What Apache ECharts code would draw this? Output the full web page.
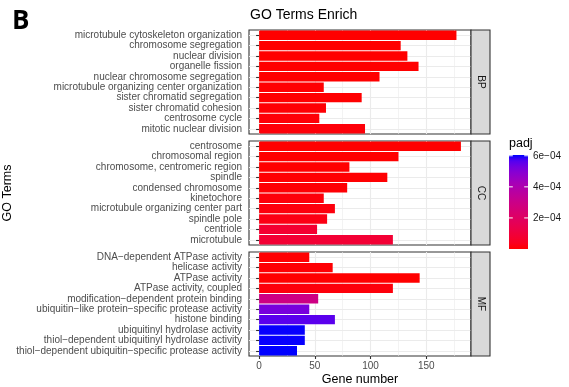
<!DOCTYPE html>
<html>
<head>
<meta charset="utf-8">
<script src="https://cdn.jsdelivr.net/npm/echarts@6/dist/echarts.min.js"></script>
<style>
  html, body { margin: 0; padding: 0; background: #ffffff; }
  #chart { width: 569px; height: 387px; }
</style>
</head>
<body>
<div id="chart"></div>
<script>
// ---- GO enrichment data (top to bottom within each ontology) ----
const bpTerms = [
  'microtubule cytoskeleton organization', 'chromosome segregation', 'nuclear division',
  'organelle fission', 'nuclear chromosome segregation', 'microtubule organizing center organization',
  'sister chromatid segregation', 'sister chromatid cohesion', 'centrosome cycle', 'mitotic nuclear division'
];
const bpCounts = [177, 127, 133, 143, 108, 58, 92, 60, 54, 95];
const bpPadj = [1.2e-9, 3.4e-8, 5.1e-8, 2.6e-8, 4.0e-7, 2.2e-6, 1.5e-6, 4.3e-6, 8.7e-6, 1.1e-5];

const ccTerms = [
  'centrosome', 'chromosomal region', 'chromosome, centromeric region', 'spindle',
  'condensed chromosome', 'kinetochore', 'microtubule organizing center part', 'spindle pole',
  'centriole', 'microtubule'
];
const ccCounts = [181, 125, 81, 115, 79, 58, 68, 61, 52, 120];
const ccPadj = [2.0e-12, 6.1e-9, 3.3e-7, 1.9e-6, 4.8e-6, 1.2e-5, 1.6e-5, 2.4e-5, 7.5e-5, 8.2e-5];

const mfTerms = [
  'DNA\u2212dependent ATPase activity', 'helicase activity', 'ATPase activity',
  'ATPase activity, coupled', 'modification\u2212dependent protein binding',
  'ubiquitin\u2212like protein\u2212specific protease activity', 'histone binding',
  'ubiquitinyl hydrolase activity', 'thiol\u2212dependent ubiquitinyl hydrolase activity',
  'thiol\u2212dependent ubiquitin\u2212specific protease activity'
];
const mfCounts = [45, 66, 144, 120, 53, 45, 68, 41, 41, 34];
const mfPadj = [3.0e-6, 4.5e-6, 5.2e-7, 1.4e-5, 2.9e-4, 5.2e-4, 5.6e-4, 6.02e-4, 6.02e-4, 6.05e-4];

const facetNames = ['BP', 'CC', 'MF'];
const xTicks = [0, 50, 100, 150];
const xMinorTicks = [25, 75, 125, 175];
const legendTicks = [2e-4, 4e-4, 6e-4];
const legendTickLabels = ['2e\u221204', '4e\u221204', '6e\u221204'];

// ---- layout ----
const FONT = 'Liberation Sans, Arial, sans-serif';
const panelLeft = 249, panelRight = 471, stripW = 19;
const panelTops = [30, 141, 252], panelH = 104;

const facets = [
  { terms: bpTerms, counts: bpCounts, padj: bpPadj },
  { terms: ccTerms, counts: ccCounts, padj: ccPadj },
  { terms: mfTerms, counts: mfCounts, padj: mfPadj }
];

// ---- x range: bars from 0, 5% padding on both ends ----
const allCounts = bpCounts.concat(ccCounts, mfCounts);
const countMax = Math.max(...allCounts);
const pad = 0.05 * countMax;
const xMin = -pad, xMax = countMax + pad;

// ---- colour scale: red (low padj) -> blue (high padj), interpolated in CIELAB ----
const allPadj = bpPadj.concat(ccPadj, mfPadj);
const padjMin = Math.min(...allPadj), padjMax = Math.max(...allPadj);

function toLin(c) { c /= 255; return c <= 0.04045 ? c / 12.92 : Math.pow((c + 0.055) / 1.055, 2.4); }
function toGam(c) { c = c <= 0.0031308 ? 12.92 * c : 1.055 * Math.pow(c, 1 / 2.4) - 0.055; return Math.round(Math.min(1, Math.max(0, c)) * 255); }
const WX = 0.95047, WY = 1.0, WZ = 1.08883;
function rgb2lab(rgb) {
  const r = toLin(rgb[0]), g = toLin(rgb[1]), b = toLin(rgb[2]);
  const X = (0.4124 * r + 0.3576 * g + 0.1805 * b) / WX;
  const Y = (0.2126 * r + 0.7152 * g + 0.0722 * b) / WY;
  const Z = (0.0193 * r + 0.1192 * g + 0.9505 * b) / WZ;
  const f = t => t > 0.008856 ? Math.cbrt(t) : 7.787 * t + 16 / 116;
  const fx = f(X), fy = f(Y), fz = f(Z);
  return [116 * fy - 16, 500 * (fx - fy), 200 * (fy - fz)];
}
function lab2rgb(lab) {
  const fy = (lab[0] + 16) / 116, fx = fy + lab[1] / 500, fz = fy - lab[2] / 200;
  const inv = t => t * t * t > 0.008856 ? t * t * t : (t - 16 / 116) / 7.787;
  const X = inv(fx) * WX, Y = inv(fy) * WY, Z = inv(fz) * WZ;
  const r = 3.2406 * X - 1.5372 * Y - 0.4986 * Z;
  const g = -0.9689 * X + 1.8758 * Y + 0.0415 * Z;
  const b = 0.0557 * X - 0.2040 * Y + 1.0570 * Z;
  return 'rgb(' + toGam(r) + ',' + toGam(g) + ',' + toGam(b) + ')';
}
const labLow = rgb2lab([255, 0, 0]), labHigh = rgb2lab([0, 0, 255]);
const rampStops = [];
for (let i = 0; i <= 16; i++) {
  const t = i / 16;
  rampStops.push(lab2rgb([0, 1, 2].map(k => labLow[k] + (labHigh[k] - labLow[k]) * t)));
}

// ---- axes, series ----
const grids = [], xAxes = [], yAxes = [], series = [];
facets.forEach((fc, k) => {
  const isBottom = k === facets.length - 1;
  grids.push({
    left: panelLeft, top: panelTops[k], width: panelRight - panelLeft, height: panelH,
    show: true, backgroundColor: '#ffffff', borderColor: '#333333', borderWidth: 1.1,
    containLabel: false
  });
  // major breaks
  xAxes.push({
    gridIndex: k, type: 'value', min: xMin, max: xMax, position: 'bottom',
    axisLine: { show: false },
    axisTick: { show: isBottom, customValues: xTicks, length: 3, lineStyle: { color: '#333333', width: 1.1 } },
    axisLabel: { show: isBottom, customValues: xTicks, color: '#4D4D4D', fontSize: 10, margin: 5, fontFamily: FONT },
    splitLine: { show: true, lineStyle: { color: '#EBEBEB', width: 1.1 } }
  });
  // minor breaks
  xAxes.push({
    gridIndex: k, type: 'value', min: xMin, max: xMax, position: 'top',
    axisLine: { show: false },
    axisTick: { show: false, customValues: xMinorTicks },
    axisLabel: { show: false },
    splitLine: { show: true, lineStyle: { color: '#EBEBEB', width: 0.6 } }
  });
  yAxes.push({
    gridIndex: k, type: 'category', data: fc.terms, inverse: true,
    axisLine: { show: false },
    axisTick: { show: true, alignWithLabel: true, length: 3, lineStyle: { color: '#333333', width: 1.1 } },
    axisLabel: { color: '#4D4D4D', fontSize: 10, margin: 7, fontFamily: FONT, interval: 0 },
    splitLine: { show: true, alignWithLabel: true, lineStyle: { color: '#EBEBEB', width: 1.1 } }
  });
  series.push({
    type: 'bar', name: facetNames[k],
    xAxisIndex: 2 * k, yAxisIndex: k,
    encode: { x: 0, y: 1 },
    barCategoryGap: '10%',
    data: fc.terms.map((t, i) => [fc.counts[i], t, fc.padj[i]]),
    silent: true
  });
});

// ---- strips, titles, colour bar ----
const graphics = [];
facets.forEach((fc, k) => {
  graphics.push({
    type: 'rect', shape: { x: panelRight, y: panelTops[k], width: stripW, height: panelH },
    style: { fill: '#D9D9D9', stroke: '#333333', lineWidth: 1.1 }, z: 10
  });
  graphics.push({
    type: 'text', x: panelRight + stripW / 2, y: panelTops[k] + panelH / 2, rotation: -Math.PI / 2,
    style: { text: facetNames[k], x: 0, y: 0, align: 'center', verticalAlign: 'middle',
             fill: '#1A1A1A', font: '10px ' + FONT }, z: 11
  });
});
const panelMidY = (panelTops[0] + panelTops[2] + panelH) / 2;
graphics.push(
  { type: 'text', style: { text: 'B', x: 12, y: 22, verticalAlign: 'middle', fill: '#000000',
      font: 'bold 26px Open Sans, Liberation Sans, sans-serif' } },
  { type: 'text', style: { text: 'GO Terms Enrich', x: panelLeft + 1, y: 15, verticalAlign: 'middle',
      fill: '#000000', font: '14px ' + FONT } },
  { type: 'text', style: { text: 'Gene number', x: (panelLeft + panelRight) / 2, y: 380,
      align: 'center', verticalAlign: 'middle', fill: '#000000', font: '12.5px ' + FONT } },
  { type: 'text', x: 8, y: panelMidY, rotation: Math.PI / 2,
    style: { text: 'GO Terms', x: 0, y: 0, align: 'center', verticalAlign: 'middle',
      fill: '#000000', font: '12.5px ' + FONT } },
  { type: 'text', style: { text: 'padj', x: 509, y: 144, verticalAlign: 'middle',
      fill: '#000000', font: '12.5px ' + FONT } }
);
const barX = 509, barW = 19, barTop = 155, barH = 94;
graphics.push({
  type: 'rect', shape: { x: barX, y: barTop, width: barW, height: barH },
  style: {
    fill: new echarts.graphic.LinearGradient(0, 1, 0, 0,
      rampStops.map((c, i) => ({ offset: i / (rampStops.length - 1), color: c })))
  }
});
legendTicks.forEach((v, i) => {
  const y = barTop + barH - (v - padjMin) / (padjMax - padjMin) * barH;
  graphics.push(
    { type: 'line', shape: { x1: barX, y1: y, x2: barX + 3.8, y2: y }, style: { stroke: '#ffffff', lineWidth: 1 } },
    { type: 'line', shape: { x1: barX + barW - 3.8, y1: y, x2: barX + barW, y2: y }, style: { stroke: '#ffffff', lineWidth: 1 } },
    { type: 'text', style: { text: legendTickLabels[i], x: barX + barW + 5, y: y, verticalAlign: 'middle',
        fill: '#1A1A1A', font: '10px ' + FONT } }
  );
});

const chart = echarts.init(document.getElementById('chart'), null, { renderer: 'canvas' });
chart.setOption({
  animation: false,
  backgroundColor: '#ffffff',
  textStyle: { fontFamily: FONT },
  grid: grids,
  xAxis: xAxes,
  yAxis: yAxes,
  visualMap: {
    type: 'continuous', show: false, dimension: 2,
    min: padjMin, max: padjMax, seriesIndex: [0, 1, 2],
    inRange: { color: rampStops }
  },
  series: series,
  graphic: graphics
});
</script>
</body>
</html>
